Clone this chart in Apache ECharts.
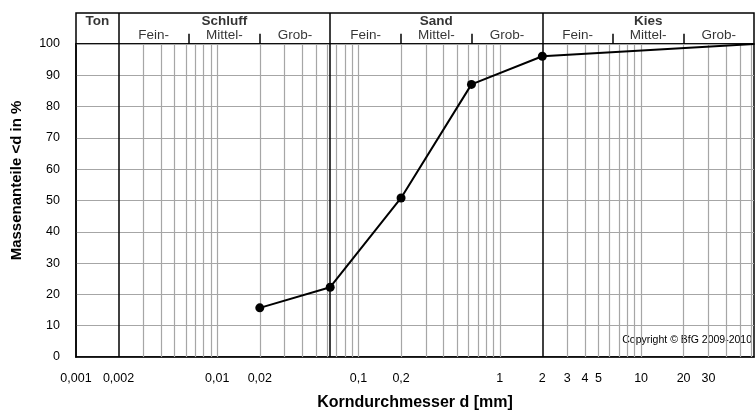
<!DOCTYPE html>
<html>
<head>
<meta charset="utf-8">
<script src="https://cdn.jsdelivr.net/npm/echarts@6/dist/echarts.min.js"></script>
<style>
html,body{margin:0;padding:0;background:#fff}
#chart{width:755px;height:410px}
</style>
</head>
<body>
<div id="chart"></div>
<script>
// Sieblinie - Werte
var korn = [0.02, 0.063, 0.2, 0.63, 2, 63];
var anteil = [15.7, 22.3, 50.8, 87.1, 96.1, 100];

// Achsen
var xTicks = [0.001, 0.002, 0.01, 0.02, 0.1, 0.2, 1, 2, 3, 4, 5, 10, 20, 30];
var gitterGrau = [0.003, 0.004, 0.005, 0.006, 0.007, 0.008, 0.009, 0.01,
  0.02, 0.03, 0.04, 0.05, 0.06,
  0.07, 0.08, 0.09, 0.1, 0.2, 0.3, 0.4, 0.5, 0.6, 0.7, 0.8, 0.9, 1,
  3, 4, 5, 6, 7, 8, 9, 10, 20, 30, 40, 50, 60];

// Kornfraktionen (Kopfzeile)
var gruppen = ['Ton', 'Schluff', 'Sand', 'Kies'];
var gruppenGrenzen = [0.001, 0.002, 0.063, 2, 63];
var teile = ['Fein-', 'Mittel-', 'Grob-'];
var teilGrenzen = [[0.002, 0.0063, 0.02, 0.063], [0.063, 0.2, 0.63, 2], [2, 6.3, 20, 63]];

function fmt(v) { return String(v).replace('.', ','); }

(function(){
  var myChart = echarts.init(document.getElementById('chart'));

  var kopfText = [];
  gruppen.forEach(function(g, i){
    var a = gruppenGrenzen[i], b = gruppenGrenzen[i + 1];
    kopfText.push({ value: [Math.sqrt(a * b), 0.74, g], label: { fontWeight: 'bold', fontSize: 13.5 } });
  });
  var kopfStriche = [];
  teilGrenzen.forEach(function(tg){
    for (var k = 0; k < 3; k++) {
      kopfText.push({ value: [Math.sqrt(tg[k] * tg[k + 1]), 0.27, teile[k]] });
    }
    kopfStriche.push([{ coord: [tg[1], 0] }, { coord: [tg[1], 0.33] }]);
    kopfStriche.push([{ coord: [tg[2], 0] }, { coord: [tg[2], 0.33] }]);
  });
  var kopfGrenzen = gruppenGrenzen.slice(1, 4).map(function(v){
    return [{ coord: [v, 0] }, { coord: [v, 1] }];
  });

  var senkrecht = function(v){ return [{ coord: [v, 0] }, { coord: [v, 100] }]; };

  var linie = korn.map(function(d, i){
    var item = { value: [d, anteil[i]] };
    if (i === korn.length - 1) item.symbol = 'none';
    return item;
  });

  var font = 'Liberation Sans, Arial, sans-serif';

  option = {
    animation: false,
    textStyle: { fontFamily: font },
    grid: [
      { left: 76, right: 1, top: 44, bottom: 53, outerBoundsMode: 'none', containLabel: false,
        show: true, borderColor: '#000', borderWidth: 1.5 },
      { left: 76, right: 1, top: 13, height: 31, outerBoundsMode: 'none', containLabel: false,
        show: true, borderColor: '#000', borderWidth: 1.5 }
    ],
    xAxis: [
      {
        type: 'log', logBase: 10, min: 0.001, max: 63, gridIndex: 0,
        name: 'Korndurchmesser d [mm]', nameLocation: 'middle', nameGap: 38,
        nameTextStyle: { fontSize: 16, fontWeight: 'bold', color: '#000' },
        axisLine: { lineStyle: { color: '#000', width: 1.5 } },
        axisTick: { show: false },
        splitLine: { show: false },
        minorSplitLine: { show: false },
        axisLabel: { customValues: xTicks, formatter: fmt, color: '#000', fontSize: 12.5, margin: 15 }
      },
      { type: 'log', logBase: 10, min: 0.001, max: 63, gridIndex: 1, show: false }
    ],
    yAxis: [
      {
        type: 'value', min: 0, max: 100, interval: 10, gridIndex: 0,
        name: 'Massenanteile <d in %', nameLocation: 'middle', nameGap: 52,
        nameTextStyle: { fontSize: 15, fontWeight: 'bold', color: '#000', padding: [0, 0, 0, 40] },
        axisLine: { show: true, lineStyle: { color: '#000', width: 1.5 } },
        axisTick: { show: false },
        axisLabel: { color: '#000', fontSize: 12.5, margin: 16 },
        splitLine: { lineStyle: { color: '#a6a6a6', width: 1.2 } }
      },
      { type: 'value', min: 0, max: 1, gridIndex: 1, show: false }
    ],
    graphic: [
      { type: 'text', right: 3, top: 335, style: { text: 'Copyright © BfG 2009-2010', fontSize: 10.5, fill: '#000', fontFamily: font } }
    ],
    series: [
      {
        name: 'gitter', type: 'line', data: [], xAxisIndex: 0, yAxisIndex: 0, z: 1,
        markLine: {
          silent: true, symbol: ['none', 'none'], label: { show: false },
          lineStyle: { color: '#a6a6a6', width: 1.2, type: 'solid' },
          data: gitterGrau.map(senkrecht)
        }
      },
      {
        name: 'grenzen', type: 'line', data: [], xAxisIndex: 0, yAxisIndex: 0, z: 2,
        markLine: {
          silent: true, symbol: ['none', 'none'], label: { show: false },
          lineStyle: { color: '#000', width: 1.5, type: 'solid' },
          data: gruppenGrenzen.slice(1, 4).map(senkrecht)
        }
      },
      {
        name: 'Sieblinie', type: 'line', data: linie, xAxisIndex: 0, yAxisIndex: 0, z: 5,
        symbol: 'circle', symbolSize: 9,
        itemStyle: { color: '#000' },
        lineStyle: { color: '#000', width: 2 }
      },
      {
        name: 'kopf', type: 'scatter', data: kopfText, xAxisIndex: 1, yAxisIndex: 1,
        symbolSize: 0, silent: true,
        label: { show: true, position: 'inside', color: '#000', fontSize: 13.5,
          formatter: function(p){ return p.value[2]; } },
        markLine: {
          silent: true, symbol: ['none', 'none'], label: { show: false },
          lineStyle: { color: '#000', width: 1.5, type: 'solid' },
          data: kopfGrenzen.concat(kopfStriche)
        }
      }
    ]
  };
  myChart.setOption(option);
})();
</script>
</body>
</html>
